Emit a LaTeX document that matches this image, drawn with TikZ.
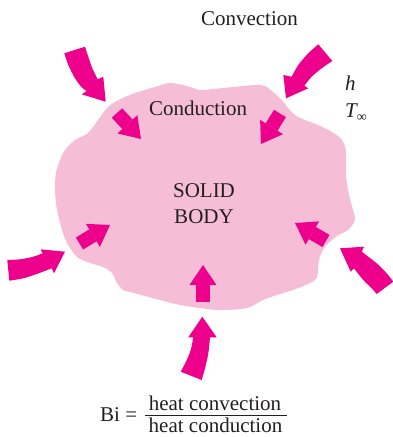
\documentclass[tikz,border=0pt]{standalone}
\usepackage{fontspec}
\setmainfont{Liberation Serif}
\usetikzlibrary{arrows.meta}
\definecolor{arrowpink}{RGB}{236,0,140}
\definecolor{bodypink}{RGB}{246,190,214}
\definecolor{textdark}{RGB}{35,31,32}
\tikzset{
  convfill/.style={fill=arrowpink},
  condarrow/.style={draw=arrowpink, line width=14pt, line cap=butt,
    -{Triangle[width=27pt,length=20pt,line width=0pt]}},
  lbl/.style={font=\fontsize{21}{24}\selectfont, text=textdark, inner sep=0pt, anchor=base}
}
\begin{document}
\begin{tikzpicture}[x=1pt,y=-1pt]
\useasboundingbox (0,0) rectangle (393,437);
% solid body
\fill[bodypink] plot[smooth cycle, tension=0.55] coordinates {
(115,102) (125,97) (138,92) (155,87) (170,83) (187,86) (200,90) (213,89)
(233,87) (255,85) (265,86) (273,92) (282,100) (288,108) (295,115) (305,120)
(318,125) (332,132) (342,140) (346,152) (346,175) (349,195) (353,210) (355,220)
(348,230) (337,236) (325,247) (319,260) (317,277) (310,283) (293,290) (280,294)
(263,300) (247,308) (220,310) (200,308) (180,305) (160,300) (130,292) (123,290)
(117,283) (112,273) (103,267) (90,263) (77,257) (67,243) (62,230) (57,210)
(55,190) (56,173) (60,160) (65,150) (75,140) (88,133) (98,120) (107,108)};
% convection arrows (tapered, curved)
\coordinate (c1tip) at (105.7,101.7);
\fill[convfill] plot[smooth] coordinates {(64.3,53.3) (68.3,65) (75,78.3) (81.7,87.3) (86.7,91)}
  -- (81.7,94.3) -- (c1tip) -- (103.3,76.7) -- (97.7,79.3)
  -- plot[smooth] coordinates {(97.7,79.3) (92.3,68.3) (88.3,56.7) (85,46.7)} -- cycle;
\coordinate (c2tip) at (286,98.3);
\fill[convfill] plot[smooth] coordinates {(318.3,44.3) (308.3,53.3) (298.3,65) (291.7,76.7)}
  -- (283.3,75) -- (c2tip) -- (308.3,88.3) -- (304.3,85.7)
  -- plot[smooth] coordinates {(304.3,85.7) (311.7,76.7) (321.7,68.3) (332.3,61)} -- cycle;
\coordinate (c3tip) at (65,251.7);
\fill[convfill] plot[smooth] coordinates {(7.3,260) (20,259.3) (33.3,256.7) (42.5,253.3)}
  -- (40.7,249.3) -- (c3tip) -- (54,273.3) -- (51.7,268.3)
  -- plot[smooth] coordinates {(51.7,268.3) (36.7,274) (23.3,278.3) (9.3,280.7)} -- cycle;
\coordinate (c4tip) at (340,248.3);
\fill[convfill] plot[smooth] coordinates {(393.3,281.7) (386.7,273.3) (376.7,263.3) (361.7,251.7)}
  -- (364,246.7) -- (c4tip) -- (350.7,271.7) -- (354,268.3)
  -- plot[smooth] coordinates {(354,268.3) (363.3,280) (371.7,288.3) (376.7,294)} -- cycle;
\coordinate (c5tip) at (202.3,316.7);
\fill[convfill] plot[smooth] coordinates {(180.7,371.7) (186,361.7) (190.7,350) (193.3,337.3)}
  -- (188.3,337.3) -- (c5tip) -- (216.7,337.3) -- (210,337.3)
  -- plot[smooth] coordinates {(210,337.3) (208.3,353.3) (205,368.3) (201.7,380)} -- cycle;
% conduction arrows
\coordinate (d1s) at (117,113);   \coordinate (d1e) at (141,139);
\coordinate (d2s) at (280,113.5); \coordinate (d2e) at (261,144);
\coordinate (d3s) at (79.5,243.5);\coordinate (d3e) at (110,225);
\coordinate (d4s) at (326,241);   \coordinate (d4e) at (295,223);
\coordinate (d5s) at (203,302);   \coordinate (d5e) at (203,265);
\draw[condarrow] (d1s) -- (d1e);
\draw[condarrow] (d2s) -- (d2e);
\draw[condarrow] (d3s) -- (d3e);
\draw[condarrow] (d4s) -- (d4e);
\draw[condarrow] (d5s) -- (d5e);
% labels
\node[lbl] (convection) at (249.5,25) {Convection};
\node[lbl] (conduction) at (198,115) {Conduction};
\node[lbl] (solid) at (204,197) {SOLID};
\node[lbl] (body) at (204,223) {BODY};
\node[lbl, anchor=base west] (h) at (345,90) {\itshape h};
\node[lbl, anchor=base west] (tinf) at (345,117) {\itshape T\raisebox{-4pt}{\upshape\fontsize{14}{14}\selectfont ∞}};
% Biot number
\node[lbl, anchor=base west] (bi) at (100,421) {Bi =};
\node[lbl] (num) at (215,410.5) {heat convection};
\node[lbl] (den) at (215.5,432.5) {heat conduction};
\draw[textdark, line width=0.8pt] (145,415) -- (287,415);
\end{tikzpicture}
\end{document}
